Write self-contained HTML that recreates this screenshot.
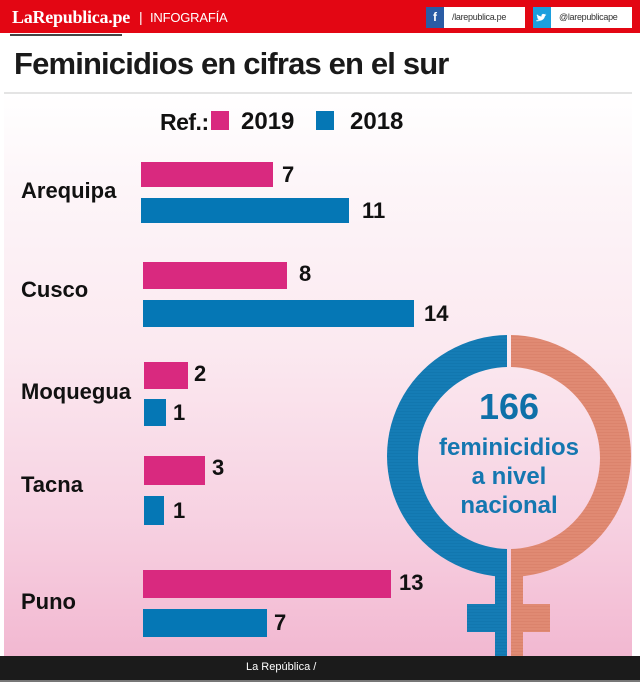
<!DOCTYPE html>
<html><head><meta charset="utf-8">
<style>
*{margin:0;padding:0;box-sizing:border-box}
body{width:640px;height:682px;overflow:hidden;background:#fff;position:relative;font-family:"Liberation Sans",sans-serif}
.a{position:absolute;white-space:nowrap}
.hdr{left:0;top:0;width:640px;height:33px;background:#e30613}
.bg{left:4px;top:94px;width:628px;height:562px;background:linear-gradient(to bottom,#ffffff 0%,#fdf6f9 15%,#fbe9f0 45%,#f7d2e2 75%,#f2b8d1 100%)}
.lbl{font-weight:bold;font-size:22px;color:#111;left:21px}
.val{font-weight:bold;font-size:22px;color:#111}
.p{background:#d9297f;position:absolute}
.b{background:#0577b5;position:absolute}
</style></head><body>
<div class="a hdr"></div>
<div class="a" style="left:12px;top:7px;font-family:'Liberation Serif',serif;font-weight:bold;font-size:18px;color:#fff;letter-spacing:-0.25px">LaRepublica.pe</div>
<div class="a" style="left:139px;top:9px;font-size:14px;color:#fff">|</div>
<div class="a" style="left:150px;top:10px;font-size:13px;color:#fff;letter-spacing:-0.2px">INFOGRAFÍA</div>
<div class="a" style="left:426px;top:7px;width:18px;height:21px;background:#2a5ca5;color:#fff;font-weight:bold;font-size:12px;text-align:center;line-height:21px">f</div>
<div class="a" style="left:444px;top:7px;width:81px;height:21px;background:#fff;color:#333;font-size:9px;line-height:21px;padding-left:8px;letter-spacing:-0.3px">/larepublica.pe</div>
<div class="a" style="left:533px;top:7px;width:18px;height:21px;background:#1c9fde"><svg width="18" height="21" viewBox="0 0 18 21"><path d="M4 13c3 1.5 7 .5 8-4l1.5-1.2-1.5.2 1-1.2-1.6.5C10 6 8 7.5 8.6 9.5 6.6 9.4 5 8.5 4 7.3c-.6 1.2 0 2.4 1 3l-.9-.1c0 1 .8 1.8 1.8 2-.5.2-1 .2-1.3.1.3.8 1 1.3 2 1.4-1 .6-2.2.8-3.6.3z" fill="#fff"/></svg></div>
<div class="a" style="left:551px;top:7px;width:81px;height:21px;background:#fff;color:#333;font-size:9px;line-height:21px;padding-left:8px;letter-spacing:-0.3px">@larepublicape</div>
<div class="a" style="left:10px;top:34px;width:112px;height:2px;background:#444"></div>
<div class="a" style="left:14px;top:46px;font-weight:bold;font-size:31px;color:#1a1a1a;letter-spacing:-0.85px">Feminicidios en cifras en el sur</div>
<div class="a" style="left:4px;top:92px;width:628px;height:2px;background:#e4e4e4"></div>
<div class="a bg"></div>

<div class="a" style="left:160px;top:109px;font-weight:bold;font-size:23px;color:#111;letter-spacing:-0.5px">Ref.:</div>
<div class="a" style="left:211px;top:111px;width:18px;height:19px;background:#d9297f"></div>
<div class="a" style="left:241px;top:108px;font-weight:bold;font-size:24px;color:#111">2019</div>
<div class="a" style="left:316px;top:111px;width:18px;height:19px;background:#0577b5"></div>
<div class="a" style="left:350px;top:108px;font-weight:bold;font-size:24px;color:#111">2018</div>

<div class="a lbl" style="top:178px">Arequipa</div>
<div class="p" style="left:141px;top:162px;width:132px;height:25px"></div>
<div class="b" style="left:141px;top:198px;width:208px;height:25px"></div>
<div class="a val" style="left:282px;top:162px">7</div>
<div class="a val" style="left:362px;top:198px">11</div>

<div class="a lbl" style="top:277px">Cusco</div>
<div class="p" style="left:143px;top:262px;width:144px;height:27px"></div>
<div class="b" style="left:143px;top:300px;width:271px;height:27px"></div>
<div class="a val" style="left:299px;top:261px">8</div>
<div class="a val" style="left:424px;top:301px">14</div>

<div class="a lbl" style="top:379px">Moquegua</div>
<div class="p" style="left:144px;top:362px;width:44px;height:27px"></div>
<div class="b" style="left:144px;top:399px;width:22px;height:27px"></div>
<div class="a val" style="left:194px;top:361px">2</div>
<div class="a val" style="left:173px;top:400px">1</div>

<div class="a lbl" style="top:472px">Tacna</div>
<div class="p" style="left:144px;top:456px;width:61px;height:29px"></div>
<div class="b" style="left:144px;top:496px;width:20px;height:29px"></div>
<div class="a val" style="left:212px;top:455px">3</div>
<div class="a val" style="left:173px;top:498px">1</div>

<div class="a lbl" style="top:589px">Puno</div>
<div class="p" style="left:143px;top:570px;width:248px;height:28px"></div>
<div class="b" style="left:143px;top:609px;width:124px;height:28px"></div>
<div class="a val" style="left:399px;top:570px">13</div>
<div class="a val" style="left:274px;top:610px">7</div>

<svg class="a" style="left:0;top:0" width="640" height="682" viewBox="0 0 640 682">
<defs>
<clipPath id="L"><rect x="0" y="0" width="507" height="682"/></clipPath>
<clipPath id="R"><rect x="511" y="0" width="200" height="682"/></clipPath>
<pattern id="st" width="4" height="3" patternUnits="userSpaceOnUse"><rect width="4" height="3" fill="#e08a73"/><rect width="4" height="1" fill="#db836c"/></pattern>
<pattern id="sb" width="4" height="3" patternUnits="userSpaceOnUse"><rect width="4" height="3" fill="#157cb5"/><rect width="4" height="1" fill="#1277af"/></pattern>
</defs>
<path clip-path="url(#L)" fill-rule="evenodd" fill="url(#sb)" d="M509 335a122 121 0 1 0 0.01 0zM509 367a91 91 0 1 1 -0.01 0z"/>
<path clip-path="url(#R)" fill-rule="evenodd" fill="url(#st)" d="M509 335a122 121 0 1 0 0.01 0zM509 367a91 91 0 1 1 -0.01 0z"/>
<rect x="495" y="575" width="12" height="81" fill="url(#sb)"/>
<rect x="467" y="604" width="40" height="28" fill="url(#sb)"/>
<rect x="511" y="575" width="12" height="81" fill="url(#st)"/>
<rect x="511" y="604" width="39" height="28" fill="url(#st)"/>
</svg>
<div class="a" style="left:409px;top:386px;width:200px;text-align:center;font-weight:bold;font-size:36px;color:#0f70a8">166</div>
<div class="a" style="left:409px;top:433px;width:200px;text-align:center;font-weight:bold;font-size:24px;line-height:29px;color:#1577b0">feminicidios<br>a nivel<br>nacional</div>

<div class="a" style="left:0;top:656px;width:640px;height:24px;background:#1b1b1b"></div>
<div class="a" style="left:0;top:680px;width:640px;height:2px;background:#777"></div>
<div class="a" style="left:246px;top:661px;font-size:11px;color:#fff">La República /</div>
</body></html>
